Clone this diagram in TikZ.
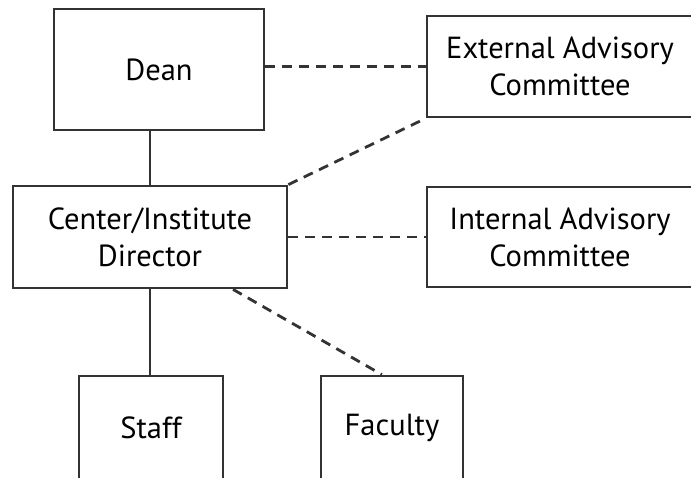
\documentclass[tikz,border=0pt]{standalone}
\usepackage{fontspec}
\setmainfont{PT Sans}
\usetikzlibrary{calc}
\definecolor{ln}{HTML}{333333}
\tikzset{
  box/.style={draw=ln, line width=2.8pt, rectangle, inner sep=0pt, align=center,
    font=\fontsize{30.5}{37}\selectfont, text=black},
  solidline/.style={draw=ln, line width=2.8pt},
  dashline/.style={draw=ln, line width=2.8pt, dash pattern=on 10pt off 7pt}
}
\begin{document}
\begin{tikzpicture}[x=1pt,y=-1pt]
\useasboundingbox (0,0) rectangle (691,478);
\begin{scope}
\clip (0,0) rectangle (691,478);
\node[box, minimum width=210pt, minimum height=121pt] (dean) at (159,69.5) {Dean};
\node[box, minimum width=266pt, minimum height=101pt] (ext) at (560,66.5) {External Advisory\\Committee};
\node[box, minimum width=274pt, minimum height=102pt] (dir) at (150,237) {Center/Institute\\Director};
\node[box, minimum width=266pt, minimum height=100pt] (int) at (560,237) {Internal Advisory\\Committee};
\node[box, minimum width=144pt, minimum height=104pt] (staff) at (151,428) {Staff};
\node[box, minimum width=142pt, minimum height=104pt] (fac) at (392,428) {Faculty};
\end{scope}
\draw[solidline] (dean.south -| dir.north) -- (dir.north);
\draw[solidline] (dir.south) -- (staff.north -| dir.south);
\draw[dashline] (ext.west -| dean.east) -- (ext.west);
\draw[dashline] (dir.north east) -- (ext.south west);
\draw[dashline] (dir.east) -- (int.west);
\draw[dashline] ($(dir.south)!0.6!(dir.south east)$) -- ($(fac.north west)!0.43!(fac.north east)$);
\end{tikzpicture}
\end{document}
